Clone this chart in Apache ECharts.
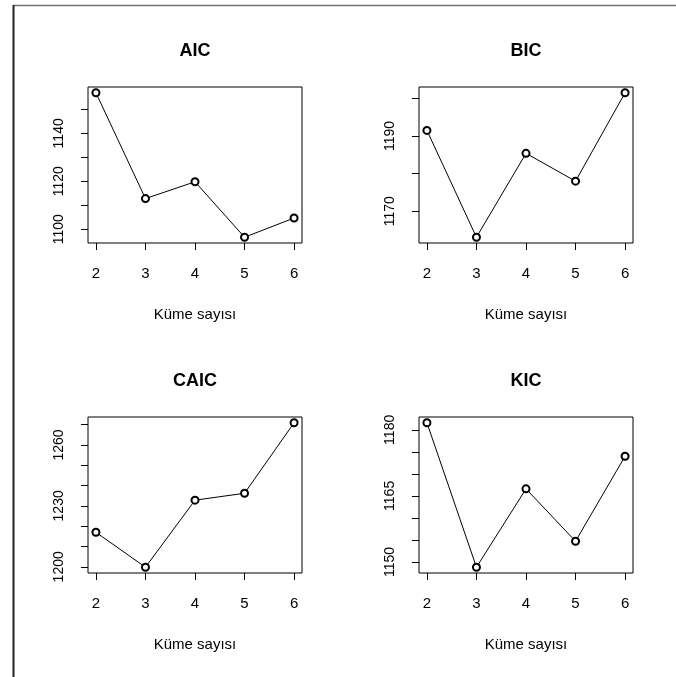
<!DOCTYPE html>
<html>
<head>
<meta charset="utf-8">
<script src="https://cdn.jsdelivr.net/npm/echarts@6/dist/echarts.min.js"></script>
<style>
  html, body { margin: 0; padding: 0; background: #fff; }
  #chart { width: 676px; height: 677px; }
</style>
</head>
<body>
<div id="chart"></div>
<script>
// küme sayısı (x)
var clusters = [2, 3, 4, 5, 6];

// değerler, okunan
var aicValues  = [1156.9, 1112.8, 1119.8, 1096.7, 1104.7];
var bicValues  = [1191.5, 1163.1, 1185.4, 1178.0, 1201.5];
var caicValues = [1217.0, 1199.8, 1232.8, 1236.2, 1270.9];
var kicValues  = [1181.6, 1148.8, 1166.6, 1154.7, 1174.0];

// y eksen çentikleri ve etiketleri
var aicTicks  = [1100, 1110, 1120, 1130, 1140, 1150];
var aicLabels = [1100, 1120, 1140];
var bicTicks  = [1170, 1180, 1190, 1200];
var bicLabels = [1170, 1190];
var caicTicks  = [1200, 1210, 1220, 1230, 1240, 1250, 1260, 1270];
var caicLabels = [1200, 1230, 1260];
var kicTicks  = [1150, 1155, 1160, 1165, 1170, 1175, 1180];
var kicLabels = [1150, 1165, 1180];

var panels = [
  {title: 'AIC',  values: aicValues,  ticks: aicTicks,  labels: aicLabels,  left: 88,  top: 87},
  {title: 'BIC',  values: bicValues,  ticks: bicTicks,  labels: bicLabels,  left: 419, top: 87},
  {title: 'CAIC', values: caicValues, ticks: caicTicks, labels: caicLabels, left: 88,  top: 417},
  {title: 'KIC',  values: kicValues,  ticks: kicTicks,  labels: kicLabels,  left: 419, top: 417}
];

var W = 214, H = 156;
var grids = [], xAxes = [], yAxes = [], series = [], titles = [];

// R gibi %4 genişletme
function ext(arr) {
  var lo = Math.min.apply(null, arr), hi = Math.max.apply(null, arr);
  var d = (hi - lo) * 0.04;
  return [lo - d, hi + d];
}

for (var i = 0; i < panels.length; i++) {
  var p = panels[i];
  var xr = ext(clusters), yr = ext(p.values);
  grids.push({left: p.left, top: p.top, width: W, height: H, show: true,
    borderColor: '#000', borderWidth: 1, backgroundColor: 'transparent'});
  titles.push({
    text: p.title, left: p.left + W / 2, top: p.top - 45, textAlign: 'center', padding: 0,
    textStyle: {fontFamily: 'Liberation Sans', fontWeight: 'bold', fontSize: 18, color: '#000'}
  });
  xAxes.push({
    type: 'value', gridIndex: i, min: xr[0], max: xr[1],
    name: 'Küme sayısı', nameLocation: 'middle', nameGap: 64,
    nameTextStyle: {fontFamily: 'Liberation Sans', fontSize: 15, color: '#000'},
    axisLine: {show: false},
    axisTick: {show: true, length: 7, customValues: clusters, lineStyle: {color: '#000', width: 1}},
    axisLabel: {customValues: clusters, margin: 23,
      fontFamily: 'Liberation Sans', fontSize: 15, color: '#000'},
    splitLine: {show: false}
  });
  yAxes.push({
    type: 'value', gridIndex: i, min: yr[0], max: yr[1],
    axisLine: {show: false},
    axisTick: {show: true, length: 7, customValues: p.ticks, lineStyle: {color: '#000', width: 1}},
    axisLabel: {customValues: p.labels, rotate: 90, margin: 22,
      formatter: function (v) { return String(Math.round(v)); },
      fontFamily: 'Liberation Sans', fontSize: 14, color: '#000'},
    splitLine: {show: false}
  });
  series.push({
    type: 'line', xAxisIndex: i, yAxisIndex: i,
    data: clusters.map(function (c, k) { return [c, p.values[k]]; }),
    symbol: 'emptyCircle', symbolSize: 7, showSymbol: true,
    lineStyle: {color: '#000', width: 1},
    itemStyle: {color: '#000', borderColor: '#000', borderWidth: 0.9},
    animation: false, silent: true
  });
}

var option = {
  backgroundColor: '#fff',
  animation: false,
  title: titles,
  grid: grids,
  xAxis: xAxes,
  yAxis: yAxes,
  series: series,
  graphic: [
    {type: 'line', shape: {x1: 13, y1: 5.5, x2: 676, y2: 5.5}, style: {stroke: '#707070', lineWidth: 1.5}},
    {type: 'line', shape: {x1: 13.5, y1: 5, x2: 13.5, y2: 677}, style: {stroke: '#222', lineWidth: 2}}
  ]
};

var myChart = echarts.init(document.getElementById('chart'));
myChart.setOption(option);
</script>
</body>
</html>
